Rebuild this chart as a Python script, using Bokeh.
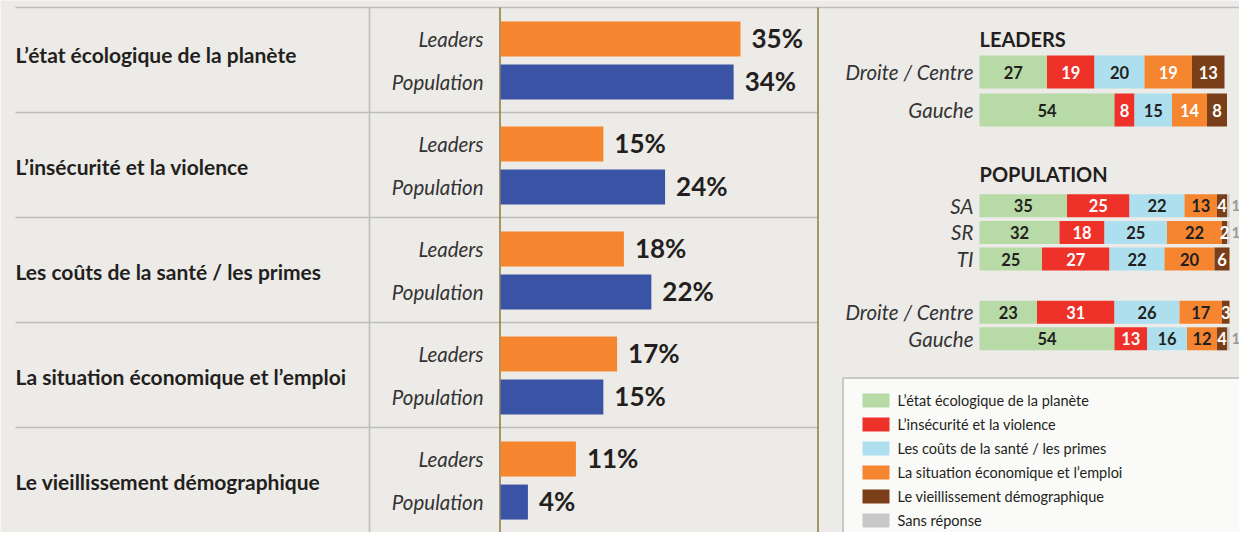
import numpy as np
from bokeh.plotting import figure
from bokeh.models import Range1d, ColumnDataSource
from bokeh.core.properties import value
from bokeh.embed import file_html
from bokeh.resources import INLINE

# ---------------- data ----------------
topics = ["L’état écologique de la planète", "L’insécurité et la violence",
          "Les coûts de la santé / les primes", "La situation économique et l’emploi",
          "Le vieillissement démographique"]
groups = ["Leaders", "Population"]
leaders_pct = [35, 15, 18, 17, 11]
population_pct = [34, 24, 22, 15, 4]

series_keys = ["eco", "insec", "sante", "emploi", "vieil", "sr"]
legend_labels = topics + ["Sans réponse"]

lead_rows = ["Droite / Centre", "Gauche"]
lead_eco = [27, 54]
lead_insec = [19, 8]
lead_sante = [20, 15]
lead_emploi = [19, 14]
lead_vieil = [13, 8]

pop_rows = ["SA", "SR", "TI", "Droite / Centre", "Gauche"]
pop_eco = [35, 32, 25, 23, 54]
pop_insec = [25, 18, 27, 31, 13]
pop_sante = [22, 25, 22, 26, 16]
pop_emploi = [13, 22, 20, 17, 12]
pop_vieil = [4, 2, 6, 3, 4]
pop_sr = [1, 1, 0, 0, 1]

# ---------------- styles ----------------
BG = "#edebe7"
ORANGE = "#f5852f"
BLUE = "#3b53a4"
COLORS = ["#b7daa6", "#ee3129", "#aedfee", "#f5852f", "#7a3f18", "#c8c8c8"]
DARK = "#231f20"
LINE = "#bdbdbd"
OLIVE = "#8c7a3c"
FONT = "Lato"

W, H = 1239, 532
p = figure(width=W, height=H, x_range=Range1d(0, W), y_range=Range1d(H, 0),
           x_axis_type=None, y_axis_type=None, toolbar_location=None,
           output_backend="svg", min_border=0, background_fill_color=BG,
           border_fill_color=BG, outline_line_color=None)
p.grid.visible = False

# scales for the sub-charts (pixel anchors -> data units)
PCT0, PCT_PX = 500.0, 240.0 / 35.0
SEC0, SEC_PX = 7.0, 105.0
STK0, STK_PX = 979.0, 2.5
LEAD0, LEAD_PX = 71.5, 38.0
POP0, POP_PX = 205.3, 26.6
p.extra_x_ranges = {
    "pct": Range1d((0 - PCT0) / PCT_PX, (W - PCT0) / PCT_PX),
    "stk": Range1d((0 - STK0) / STK_PX, (W - STK0) / STK_PX),
}
p.extra_y_ranges = {
    "sec": Range1d((H - SEC0) / SEC_PX, (0 - SEC0) / SEC_PX),
    "lead": Range1d((H - LEAD0) / LEAD_PX, (0 - LEAD0) / LEAD_PX),
    "pop": Range1d((H - POP0) / POP_PX, (0 - POP0) / POP_PX),
}

# ---------------- left: grid lines ----------------
n = len(topics)
p.segment(x0=[15] * n, x1=[W] + [818] * (n - 1), y0=list(range(n)), y1=list(range(n)),
          y_range_name="sec", line_color=LINE, line_width=1.6)
p.segment(x0=[369], x1=[369], y0=[0], y1=[5.2], y_range_name="sec",
          line_color=LINE, line_width=1.6)
p.segment(x0=[499.5, 817.5], x1=[499.5, 817.5], y0=[0, 0], y1=[5.2, 5.2],
          y_range_name="sec", line_color=OLIVE, line_width=1.5)

# ---------------- left: bars ----------------
idx = np.arange(n)
OFF = {"Leaders": 0.30, "Population": 0.71}
src_l = ColumnDataSource(dict(y=idx + OFF["Leaders"], v=leaders_pct,
                              lab=[f"{v}%" for v in leaders_pct]))
src_p = ColumnDataSource(dict(y=idx + OFF["Population"], v=population_pct,
                              lab=[f"{v}%" for v in population_pct]))
for src, col in ((src_l, ORANGE), (src_p, BLUE)):
    p.hbar(y="y", left=0, right="v", height=35 / SEC_PX, source=src, color=col,
           line_color=None, x_range_name="pct", y_range_name="sec")
    p.text(x="v", y="y", text="lab", source=src, x_range_name="pct", y_range_name="sec",
           x_offset=11, y_offset=-1, text_baseline="middle", text_align="left",
           text_font=value(FONT), text_font_style="bold", text_font_size="26px",
           text_color=DARK)

LABEL_DY = [-0.06, 0.0, 0.0, 0.0, 0.0]
p.text(x=[15] * n, y=idx + 0.51 + np.array(LABEL_DY), text=topics, y_range_name="sec",
       text_baseline="middle", text_align="left", text_font=value(FONT),
       text_font_style="bold", text_font_size="21px", text_color=DARK)
for g in groups:
    p.text(x=[483] * n, y=idx + OFF[g], text=[g] * n, y_range_name="sec",
           text_baseline="middle", text_align="right", text_font=value(FONT),
           text_font_style="italic", text_font_size="20.5px", text_color="#333333")

# ---------------- right: stacked bars ----------------
def stacked(rows, pos, cols, yname, height, label_colors):
    data = dict(y=pos)
    for k, c in zip(series_keys, cols):
        data[k] = c
    keys = series_keys[:len(cols)]
    src = ColumnDataSource(data)
    p.hbar_stack(keys, y="y", height=height, source=src, color=COLORS[:len(cols)],
                 line_color=None, x_range_name="stk", y_range_name=yname)
    arr = np.array(cols, dtype=float)
    cum = np.cumsum(arr, axis=0)
    xs, ys, ts, cs = [], [], [], []
    for si, k in enumerate(keys):
        for ri in range(len(rows)):
            v = arr[si, ri]
            if v <= 0 or k == "sr":
                continue
            xs.append(cum[si, ri] - v / 2)
            ys.append(pos[ri])
            ts.append(str(int(v)))
            cs.append(label_colors[si])
    p.text(x=xs, y=ys, text=ts, text_color=cs, x_range_name="stk", y_range_name=yname,
           text_align="center", text_baseline="middle", text_font=value(FONT),
           text_font_style="bold", text_font_size="16.5px")
    p.text(x=[973] * len(rows), y=pos, text=rows, y_range_name=yname,
           text_align="right", text_baseline="middle", text_font=value(FONT),
           text_font_style="italic", text_font_size="20.5px", text_color="#333333")
    return cum

lead_pos = [0, 1]
stacked(lead_rows, lead_pos, [lead_eco, lead_insec, lead_sante, lead_emploi, lead_vieil],
        "lead", 33 / LEAD_PX, [DARK, "white", DARK, "white", "white"])
pop_pos = [0, 1, 2, 4, 5]
cum = stacked(pop_rows, pop_pos,
              [pop_eco, pop_insec, pop_sante, pop_emploi, pop_vieil, pop_sr],
              "pop", 23 / POP_PX, [DARK, "white", DARK, DARK, "white", DARK])
has_sr = [i for i in range(len(pop_rows)) if pop_sr[i] > 0]
p.text(x=[cum[-1, i] for i in has_sr], y=[pop_pos[i] for i in has_sr],
       text=[str(pop_sr[i]) for i in has_sr], x_range_name="stk", y_range_name="pop",
       x_offset=2, text_align="left", text_baseline="middle", text_font=value(FONT),
       text_font_style="bold", text_font_size="15px", text_color="#9a9a9a")

# headers
p.text(x=[979], y=[-0.86], text=["LEADERS"], y_range_name="lead", text_align="left",
       text_baseline="middle", text_font=value(FONT), text_font_style="bold",
       text_font_size="20px", text_color=DARK)
p.text(x=[979], y=[-1.18], text=["POPULATION"], y_range_name="pop", text_align="left",
       text_baseline="middle", text_font=value(FONT), text_font_style="bold",
       text_font_size="20px", text_color=DARK)

# ---------------- legend ----------------
p.quad(left=[842.5], right=[1260], top=[377.5], bottom=[560], fill_color="#fafaf8",
       line_color="#c9c9c9", line_width=2)
m = len(legend_labels)
ly = [400 + 24 * k for k in range(m)]
p.rect(x=[875.5] * m, y=ly, width=27, height=14, fill_color=COLORS, line_color=None)
p.text(x=[897] * m, y=ly, text=legend_labels, text_align="left", text_baseline="middle",
       text_font=value(FONT), text_font_size="14.5px", text_color=DARK)

open("out.html", "w").write(file_html(p, INLINE))
